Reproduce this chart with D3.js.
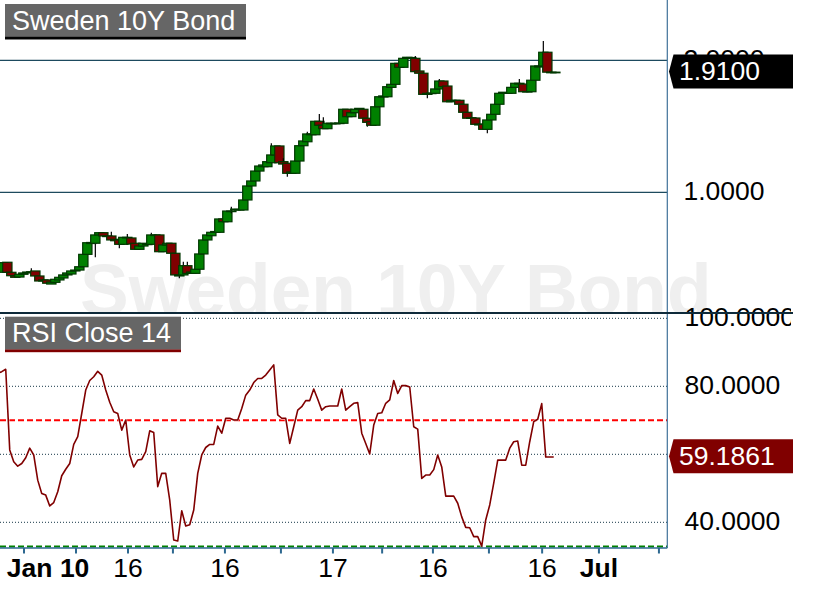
<!DOCTYPE html>
<html><head><meta charset="utf-8">
<script src="https://cdn.jsdelivr.net/npm/d3@7"></script>
<style>
body{margin:0;background:#fff;}
svg{display:block;font-family:"Liberation Sans",Arial,sans-serif;}
</style>
</head><body>
<svg id="c" width="813" height="591"></svg>
<script>
// ---------- DATA ----------
const openV = [
 0.411,0.394,0.470,0.394,0.368,0.358,0.379,0.389,0.396,0.404,
 0.366,0.328,0.336,0.305,0.318,0.336,0.351,0.374,0.381,0.404,
 0.411,0.436,0.530,0.612,0.614,0.677,0.694,0.669,0.669,0.644,
 0.639,0.606,0.659,0.654,0.614,0.568,0.593,0.606,0.606,0.677,
 0.677,0.550,0.601,0.614,0.538,0.374,0.374,0.444,0.386,0.386,
 0.417,0.533,0.639,0.671,0.697,0.697,0.798,0.777,0.858,0.866,
 0.866,0.866,0.942,1.048,1.086,1.161,1.194,1.194,1.224,1.283,
 1.351,1.232,1.220,1.144,1.144,1.237,1.353,1.383,1.436,1.436,
 1.538,1.508,1.482,1.521,1.521,1.521,1.523,1.629,1.573,1.603,
 1.629,1.629,1.561,1.535,1.508,1.648,1.722,1.724,1.795,1.818,
 1.977,1.947,2.015,2.017,2.015,1.919,1.902,1.742,1.749,1.750,
 1.783,1.843,1.805,1.686,1.697,1.697,1.667,1.606,1.561,1.563,
 1.517,1.515,1.477,1.548,1.591,1.667,1.750,1.750,1.750,1.795,
 1.826,1.820,1.764,1.762,1.849,1.949,1.957,2.061,1.910,1.910];
const closeV = [
 0.442,0.467,0.394,0.368,0.356,0.379,0.389,0.396,0.398,0.366,
 0.328,0.336,0.311,0.320,0.341,0.356,0.374,0.389,0.404,0.411,
 0.436,0.530,0.618,0.620,0.677,0.694,0.669,0.665,0.639,0.633,
 0.606,0.659,0.654,0.608,0.568,0.593,0.614,0.608,0.677,0.673,
 0.550,0.601,0.614,0.538,0.374,0.366,0.444,0.386,0.396,0.417,
 0.533,0.639,0.677,0.697,0.703,0.798,0.777,0.858,0.854,0.873,
 0.870,0.942,1.048,1.086,1.161,1.199,1.207,1.232,1.283,1.351,
 1.224,1.214,1.144,1.154,1.237,1.353,1.389,1.442,1.442,1.538,
 1.508,1.482,1.523,1.523,1.523,1.525,1.629,1.573,1.603,1.629,
 1.636,1.561,1.530,1.508,1.648,1.724,1.730,1.800,1.818,1.977,
 1.947,2.015,2.023,2.021,1.914,1.902,1.742,1.750,1.752,1.783,
 1.843,1.800,1.686,1.697,1.693,1.667,1.606,1.561,1.565,1.515,
 1.510,1.477,1.548,1.591,1.667,1.750,1.758,1.754,1.795,1.826,
 1.820,1.762,1.762,1.849,1.957,1.957,2.061,1.910,1.910,1.910];
const highV = [
 0.442,0.467,0.470,0.394,0.368,0.379,0.389,0.396,0.424,0.404,
 0.366,0.336,0.336,0.320,0.341,0.356,0.374,0.389,0.404,0.411,
 0.436,0.530,0.618,0.620,0.677,0.694,0.694,0.669,0.702,0.644,
 0.639,0.659,0.684,0.654,0.614,0.593,0.614,0.608,0.694,0.677,
 0.677,0.601,0.614,0.614,0.538,0.374,0.474,0.474,0.396,0.417,
 0.533,0.639,0.677,0.697,0.703,0.798,0.798,0.858,0.891,0.873,
 0.870,0.942,1.048,1.086,1.161,1.199,1.207,1.232,1.371,1.351,
 1.351,1.258,1.220,1.154,1.237,1.353,1.389,1.459,1.442,1.538,
 1.593,1.568,1.523,1.523,1.523,1.525,1.629,1.629,1.603,1.629,
 1.636,1.629,1.561,1.535,1.648,1.724,1.730,1.800,1.818,1.977,
 1.977,2.015,2.023,2.021,2.033,1.919,1.902,1.750,1.752,1.783,
 1.858,1.843,1.805,1.697,1.697,1.697,1.667,1.606,1.565,1.563,
 1.517,1.515,1.573,1.591,1.667,1.750,1.758,1.754,1.795,1.826,
 1.858,1.820,1.764,1.849,1.957,1.957,2.146,2.061,1.910,1.910];
const lowV = [
 0.411,0.394,0.394,0.368,0.356,0.358,0.379,0.389,0.396,0.366,
 0.328,0.328,0.311,0.305,0.318,0.336,0.351,0.374,0.381,0.404,
 0.411,0.436,0.530,0.612,0.508,0.677,0.669,0.665,0.639,0.633,
 0.576,0.606,0.654,0.608,0.568,0.568,0.593,0.606,0.606,0.673,
 0.550,0.550,0.601,0.538,0.374,0.348,0.374,0.386,0.386,0.386,
 0.417,0.533,0.639,0.671,0.697,0.697,0.777,0.777,0.841,0.866,
 0.866,0.866,0.942,1.048,1.086,1.161,1.194,1.194,1.224,1.283,
 1.224,1.194,1.118,1.144,1.144,1.237,1.353,1.383,1.436,1.436,
 1.508,1.482,1.482,1.521,1.521,1.521,1.523,1.573,1.573,1.603,
 1.629,1.561,1.497,1.508,1.508,1.648,1.722,1.724,1.795,1.818,
 1.947,1.947,2.015,2.017,1.914,1.902,1.742,1.712,1.749,1.750,
 1.783,1.800,1.686,1.686,1.693,1.667,1.606,1.561,1.561,1.515,
 1.510,1.477,1.447,1.548,1.591,1.667,1.750,1.750,1.750,1.795,
 1.820,1.762,1.762,1.762,1.849,1.949,1.957,1.910,1.910,1.910];
const rsiV = [
 83.8,84.3,85.0,61.3,57.8,56.5,57.3,59.0,61.8,59.8,
 52.4,48.5,48.0,44.8,45.8,49.0,53.7,55.6,57.3,62.9,
 65.2,72.0,78.9,81.7,82.8,84.4,83.3,78.9,75.3,72.5,
 72.0,67.1,70.1,59.8,56.3,58.3,58.5,60.8,66.9,66.4,
 50.5,54.4,54.4,46.5,34.8,34.5,43.4,38.9,39.3,43.6,
 54.4,59.8,62.0,62.9,62.9,68.3,66.2,70.6,70.6,70.1,
 70.1,73.5,77.4,78.9,81.1,82.3,82.3,83.3,84.8,86.3,
 71.6,70.6,70.6,63.2,68.1,73.0,74.0,75.8,75.8,79.2,
 76.2,73.0,74.0,74.2,74.2,74.2,79.2,73.0,74.0,75.0,
 75.2,66.2,63.2,60.1,68.6,72.0,72.2,75.0,76.0,81.7,
 77.9,80.2,80.2,79.8,68.1,67.4,52.9,53.9,53.9,55.5,
 59.8,56.3,47.7,47.7,47.7,45.6,41.6,38.5,38.4,35.8,
 35.8,33.0,40.7,45.1,51.5,58.3,58.3,58.3,61.8,63.7,
 63.9,56.8,56.8,63.7,69.6,70.3,74.9,59.1861,59.1861,59.1861];
const priceTicks = [2, 1];
const rsiGridLevels = [100, 80, 60, 40];
const rsiTickLabels = [100, 80, 40];
const rsiOverbought = 70;
const rsiOversold = 30;
const lastPriceLabel = "1.9100";
const lastRsiLabel = "59.1861";
const xTickIndex = [6.17,19.17,32.17,43.4,56.4,70.4,83.4,95.7,108.4,122.4,135.7,149.9,164.9];
const xLabelIndex = [12.2,32.17,56.4,83.4,108.4,135.7,149.9];
const xLabelText = ["Jan 10","16","16","17","16","16","Jul"];
const xLabelBold = [true,false,false,false,false,false,true];
const titlePrice = "Sweden 10Y Bond";
const titleRsi = "RSI Close 14";

// ---------- LAYOUT ----------
const svg = d3.select("#c");
const plotW = 667.3, priceBottom = 313, rsiTop = 316, rsiBottom = 548, labelRight = 793;
const x = d3.scaleLinear().domain([0, 166]).range([-0.67, 663.33]);
const yP = d3.scaleLinear().domain([1, 2]).range([192.3, 60.3]);
const yR = d3.scaleLinear().domain([40, 80]).range([522.3, 386.3]);

const defs = svg.append("defs");
defs.append("clipPath").attr("id","cpPrice").append("rect").attr("x",0).attr("y",0).attr("width",plotW).attr("height",priceBottom);
defs.append("clipPath").attr("id","cpWm").append("rect").attr("x",0).attr("y",0).attr("width",813).attr("height",priceBottom);
defs.append("clipPath").attr("id","cpRsi").append("rect").attr("x",0).attr("y",rsiTop).attr("width",plotW).attr("height",rsiBottom-rsiTop);
defs.append("clipPath").attr("id","cpLab").append("rect").attr("x",plotW).attr("y",0).attr("width",labelRight-plotW-2).attr("height",591);

// watermark
svg.append("text").attr("clip-path","url(#cpWm)")
  .attr("x",80).attr("y",315).attr("font-size",73).attr("font-weight","bold")
  .attr("fill","#efefef").text(titlePrice);

// price grid
const pg = svg.append("g").attr("clip-path","url(#cpPrice)");
pg.selectAll("line.grid").data(priceTicks).enter().append("line")
  .attr("x1",0).attr("x2",plotW).attr("y1",d=>yP(d)).attr("y2",d=>yP(d))
  .attr("stroke","#1d4a5e").attr("stroke-width",1.2);

// candles
const candles = d3.range(openV.length).map(i=>({i,o:openV[i],h:highV[i],l:lowV[i],c:closeV[i]}));
const cw = 9.3;
const cg = pg.selectAll("g.cdl").data(candles).enter().append("g");
cg.append("line").attr("x1",d=>x(d.i)).attr("x2",d=>x(d.i))
  .attr("y1",d=>yP(d.h)).attr("y2",d=>yP(d.l)).attr("stroke","#000").attr("stroke-width",1.2);
cg.append("rect")
  .attr("x",d=>x(d.i)-cw/2)
  .attr("y",d=>yP(Math.max(d.o,d.c)))
  .attr("width",cw)
  .attr("height",d=>Math.max(0.6, Math.abs(yP(d.o)-yP(d.c))))
  .attr("fill",d=>d.c>=d.o?"#008000":"#800000")
  .attr("stroke","#003800").attr("stroke-width",1.2);

// RSI grid
const rg = svg.append("g").attr("clip-path","url(#cpRsi)");
rg.selectAll("line.rg").data(rsiGridLevels).enter().append("line")
  .attr("x1",0).attr("x2",plotW).attr("y1",d=>yR(d)).attr("y2",d=>yR(d))
  .attr("stroke","#143646").attr("stroke-width",1).attr("stroke-dasharray","1 2");
rg.append("line").attr("x1",0).attr("x2",plotW).attr("y1",yR(rsiOverbought)).attr("y2",yR(rsiOverbought))
  .attr("stroke","#ff0000").attr("stroke-width",2).attr("stroke-dasharray","6 3");
const osY = Math.min(yR(rsiOversold), rsiBottom-1.5);
rg.append("line").attr("x1",0).attr("x2",plotW).attr("y1",osY).attr("y2",osY)
  .attr("stroke","#008000").attr("stroke-width",2).attr("stroke-dasharray","6 3");

// RSI line
const rl = d3.line().x((d,i)=>x(i)-1.6).y(d=>yR(d));
rg.append("path").datum(rsiV).attr("d",rl).attr("fill","none")
  .attr("stroke","#ffffff").attr("stroke-width",3).attr("stroke-opacity",0.6).attr("stroke-linejoin","round");
rg.append("path").datum(rsiV).attr("d",rl).attr("fill","none")
  .attr("stroke","#800000").attr("stroke-width",1.6).attr("stroke-linejoin","round");

// right axis labels
const lab = svg.append("g").attr("clip-path","url(#cpLab)").attr("font-size",26.5).attr("fill","#000");
lab.selectAll("text.pl").data(priceTicks).enter().append("text")
  .attr("x",683.5).attr("y",d=>yP(d)+7.2).text(d=>d.toFixed(4));
lab.selectAll("text.rl").data(rsiTickLabels).enter().append("text")
  .attr("x",684.5).attr("y",d=>yR(d)+7.5).text(d=>d.toFixed(4));

// vertical axis line
svg.append("line").attr("x1",plotW).attr("x2",plotW).attr("y1",0).attr("y2",rsiBottom)
  .attr("stroke","#3f7199").attr("stroke-width",1.2);

// panel separator
svg.append("line").attr("x1",0).attr("x2",labelRight).attr("y1",priceBottom).attr("y2",priceBottom)
  .attr("stroke","#0e2a3a").attr("stroke-width",2.2);

// badges
function badge(yc, fill, txt){
  const g = svg.append("g");
  const h = 34, top = yc-h/2;
  g.append("path").attr("d",`M669,${yc} L673.5,${top} L${labelRight},${top} L${labelRight},${top+h} L673.5,${top+h} Z`)
    .attr("fill",fill);
  g.append("text").attr("x",679).attr("y",yc+8.5).attr("font-size",26.5).attr("fill","#fff").text(txt);
}
badge(yP(closeV[closeV.length-1]) - 0.8, "#000000", lastPriceLabel);
badge(yR(rsiV[rsiV.length-1]) - 0.8, "#800000", lastRsiLabel);

// titles
function titleBox(y0, w, line, txt, base){
  svg.append("rect").attr("x",5).attr("y",y0).attr("width",w).attr("height",33).attr("fill","#666666");
  svg.append("rect").attr("x",5).attr("y",y0+32.8).attr("width",w).attr("height",2.7).attr("fill",line);
  svg.append("text").attr("x",12).attr("y",base).attr("font-size",27).attr("fill","#fff").text(txt);
}
titleBox(4, 241, "#000000", titlePrice, 29.5);
titleBox(316.7, 176, "#800000", titleRsi, 341.8);

// x axis
svg.append("line").attr("x1",0).attr("x2",plotW).attr("y1",rsiBottom).attr("y2",rsiBottom)
  .attr("stroke","#2d6890").attr("stroke-width",1.5);
svg.selectAll("line.xt").data(xTickIndex).enter().append("line")
  .attr("x1",d=>x(d)).attr("x2",d=>x(d)).attr("y1",rsiBottom).attr("y2",rsiBottom+5.5)
  .attr("stroke","#2d6890").attr("stroke-width",2);
svg.selectAll("text.xl").data(xLabelIndex).enter().append("text")
  .attr("x",d=>x(d)).attr("y",576.7).attr("text-anchor","middle")
  .attr("font-size",26.5).attr("font-weight",(d,i)=>xLabelBold[i]?"bold":"normal")
  .attr("fill","#000").text((d,i)=>xLabelText[i]);
</script>
</body></html>
